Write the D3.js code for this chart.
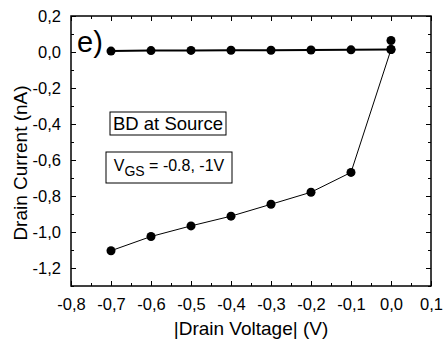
<!DOCTYPE html>
<html lang="en">
<head>
<meta charset="UTF-8">
<title>Drain Current vs Drain Voltage</title>
<script src="https://cdn.jsdelivr.net/npm/d3@7/dist/d3.min.js"></script>
<style>
  body { margin: 0; background: #fff; }
  text { font-family: "Liberation Sans", Arial, sans-serif; fill: #000; }
</style>
</head>
<body>
<svg id="chart" width="444" height="351"></svg>
<script>
    // data
    let voltage = [-0.7, -0.6, -0.5, -0.4, -0.3, -0.2, -0.1, 0.0];
    let upperCurrent = [0.005, 0.008, 0.009, 0.01, 0.01, 0.011, 0.012, 0.014];
    let lowerCurrent = [-1.104, -1.025, -0.966, -0.912, -0.846, -0.779, -0.669, 0.014];
    let extraPoint = [{x: 0.0, y: 0.064}];
    let xTicks = [-0.8, -0.7, -0.6, -0.5, -0.4, -0.3, -0.2, -0.1, 0.0, 0.1];
    let yTicks = [0.2, 0.0, -0.2, -0.4, -0.6, -0.8, -1.0, -1.2];

    let svg = d3.select('svg#chart');
    let box = {left: 71, right: 431, top: 16, bottom: 286};

    let x = d3.scaleLinear().domain([-0.8, 0.1]).range([box.left, box.right]);
    let y = d3.scaleLinear().domain([-1.3, 0.2]).range([box.bottom, box.top]);

    let fmt = d => d3.format('.1f')(d).replace('.', ',').replace('−', '-');

    // minor tick positions
    let xMinor = d3.range(-0.75, 0.1, 0.1);
    let yMinor = d3.range(-1.3, 0.2, 0.1).filter(v => Math.abs(Math.round(v * 10) % 2) === 1);

    // bottom axis with labels
    let gx = svg.append('g').attr('transform', `translate(0,${box.bottom})`)
        .call(d3.axisBottom(x).tickValues(xTicks).tickSizeInner(-5).tickSizeOuter(0).tickPadding(12).tickFormat(fmt));
    gx.append('g').call(d3.axisBottom(x).tickValues(xMinor).tickSize(-3).tickFormat(''));
    // top mirror
    let gxt = svg.append('g').attr('transform', `translate(0,${box.top})`)
        .call(d3.axisTop(x).tickValues(xTicks).tickSizeInner(-5).tickSizeOuter(0).tickFormat(''));
    gxt.append('g').call(d3.axisTop(x).tickValues(xMinor).tickSize(-3).tickFormat(''));

    // left axis with labels
    let gy = svg.append('g').attr('transform', `translate(${box.left},0)`)
        .call(d3.axisLeft(y).tickValues(yTicks).tickSizeInner(-5).tickSizeOuter(0).tickPadding(10).tickFormat(fmt));
    gy.append('g').call(d3.axisLeft(y).tickValues(yMinor).tickSize(-3).tickFormat(''));
    // right mirror
    let gyr = svg.append('g').attr('transform', `translate(${box.right},0)`)
        .call(d3.axisRight(y).tickValues(yTicks).tickSizeInner(-5).tickSizeOuter(0).tickFormat(''));
    gyr.append('g').call(d3.axisRight(y).tickValues(yMinor).tickSize(-3).tickFormat(''));

    svg.selectAll('.domain').remove();
    svg.selectAll('.tick line').attr('stroke', '#000').attr('stroke-width', 1);
    svg.selectAll('.tick text').attr('font-size', 16.5).attr('fill', '#000')
        .style('font-family', '"Liberation Sans", Arial, sans-serif');

    // frame
    svg.append('rect')
        .attr('x', box.left).attr('y', box.top)
        .attr('width', box.right - box.left).attr('height', box.bottom - box.top)
        .attr('fill', 'none').attr('stroke', '#000').attr('stroke-width', 1.5);

    // series
    let line = d3.line().x(d => x(d[0])).y(d => y(d[1]));
    let upper = voltage.map((v, i) => [v, upperCurrent[i]]);
    let lower = voltage.map((v, i) => [v, lowerCurrent[i]]);

    svg.append('path').datum(lower).attr('d', line)
        .attr('fill', 'none').attr('stroke', '#000').attr('stroke-width', 1);
    svg.append('path').datum(upper).attr('d', line)
        .attr('fill', 'none').attr('stroke', '#000').attr('stroke-width', 2);

    let pts = upper.concat(lower).concat(extraPoint.map(d => [d.x, d.y]));
    svg.append('g').selectAll('circle')
        .data(pts)
        .enter()
        .append('circle')
        .attr('cx', d => x(d[0]))
        .attr('cy', d => y(d[1]))
        .attr('r', 4.5)
        .attr('fill', '#000');

    // panel label
    svg.append('text').attr('x', 77).attr('y', 52).attr('font-size', 29).text('e)');

    // annotation boxes
    svg.append('rect').attr('x', 110).attr('y', 112).attr('width', 116).attr('height', 23)
        .attr('fill', '#fff').attr('stroke', '#000').attr('stroke-width', 1);
    svg.append('text').attr('x', 168).attr('y', 130).attr('text-anchor', 'middle')
        .attr('font-size', 18.5).text('BD at Source');

    svg.append('rect').attr('x', 106).attr('y', 152).attr('width', 126).attr('height', 31)
        .attr('fill', '#fff').attr('stroke', '#000').attr('stroke-width', 1);
    let vgs = svg.append('text').attr('x', 169).attr('y', 171).attr('text-anchor', 'middle')
        .attr('font-size', 16);
    vgs.append('tspan').text('V');
    vgs.append('tspan').attr('font-size', 14).attr('dy', 5).text('GS');
    vgs.append('tspan').attr('dy', -5).text(' = -0.8, -1V');

    // axis titles
    svg.append('text').attr('x', 251).attr('y', 335).attr('text-anchor', 'middle')
        .attr('font-size', 19).text('|Drain Voltage| (V)');
    svg.append('text').attr('transform', 'translate(27,163) rotate(-90)')
        .attr('text-anchor', 'middle').attr('font-size', 19).text('Drain Current (nA)');
</script>
</body>
</html>
